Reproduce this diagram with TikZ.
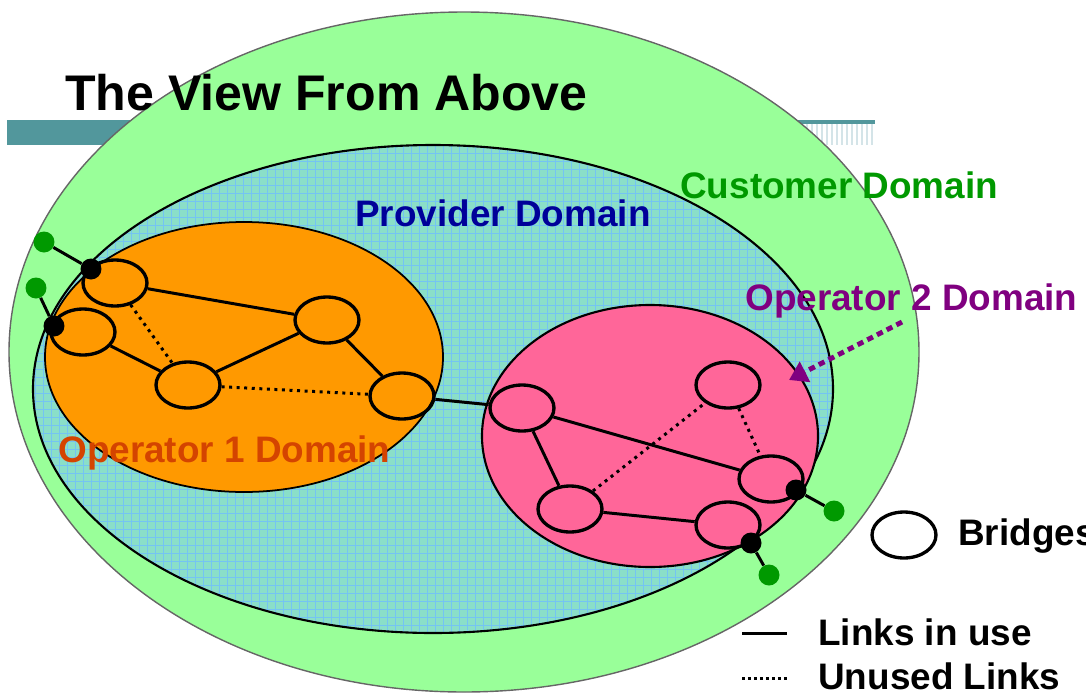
\documentclass[tikz,border=0pt]{standalone}
\usepackage{fontspec}
\setmainfont{Liberation Sans}
\usetikzlibrary{shapes.geometric,arrows.meta}
\definecolor{custgreen}{HTML}{99FF99}
\definecolor{custtext}{HTML}{009900}
\definecolor{provfill}{HTML}{8ADFC8}
\definecolor{provgrid}{HTML}{74C4F2}
\definecolor{provtext}{HTML}{000099}
\definecolor{opone}{HTML}{FF9900}
\definecolor{oponetext}{HTML}{D44400}
\definecolor{optwo}{HTML}{FF6699}
\definecolor{optwotext}{HTML}{800080}
\definecolor{barteal}{HTML}{52979C}
\definecolor{barstripe}{HTML}{D4E4E8}

\tikzset{
  bridge/.style={ellipse, draw, line width=1.9pt, inner sep=0pt, minimum width=1.28cm, minimum height=0.92cm},
  port/.style={circle, fill=black, inner sep=0pt, minimum size=0.42cm},
  host/.style={circle, fill=custtext, inner sep=0pt, minimum size=0.42cm},
  inuse/.style={line width=1.7pt},
  unused/.style={line width=1.7pt, dash pattern=on 1.7pt off 2.6pt},
  domlabel/.style={font=\bfseries\fontsize{21}{25}\selectfont, anchor=base west, inner sep=0pt}
}

\begin{document}
\begin{tikzpicture}[x=0.02cm, y=-0.02cm]
  \useasboundingbox (0,0) rectangle (1086,697);

  % title bar
  \fill[barteal] (7,120) rectangle (450,145);
  \fill[barteal] (450,120) rectangle (875,124);
  \foreach \x in {452,457,...,872}
    \draw[barstripe, line width=1.1pt] (\x,124) -- (\x,145);

  % customer domain
  \filldraw[fill=custgreen, draw=black!60, line width=0.8pt] (464,352) ellipse [x radius=455, y radius=340];

  % provider domain
  \begin{scope}
    \clip (433,389) ellipse [x radius=400, y radius=244];
    \fill[provfill] (30,140) rectangle (840,640);
    \foreach \x in {35,43,...,833}
      \draw[provgrid, line width=0.5pt] (\x,140) -- (\x,640);
    \foreach \y in {145,153,...,633}
      \draw[provgrid, line width=0.5pt] (30,\y) -- (840,\y);
  \end{scope}
  \draw[line width=1.2pt] (433,389) ellipse [x radius=400, y radius=244];

  % operator domains
  \filldraw[fill=opone, line width=1pt] (244,357) ellipse [x radius=199, y radius=135];
  \filldraw[fill=optwo, line width=1.2pt] (650,436) ellipse [x radius=168, y radius=131];

  % labels
  \node[font=\bfseries\fontsize{28.5}{34}\selectfont, anchor=base west, inner sep=0pt] (title) at (65,110) {The View From Above};
  \node[domlabel, text=custtext] (custlbl) at (680,198) {Customer Domain};
  \node[domlabel, text=provtext] (provlbl) at (355,226) {Provider Domain};
  \node[domlabel, text=optwotext] (optwolbl) at (745,310) {Operator 2 Domain};
  \node[domlabel, text=oponetext] (oponelbl) at (58,462) {Operator 1 Domain};

  % operator 2 pointer
  \coordinate (ptrtail) at (902,322);
  \coordinate (ptrhead) at (789,380);
  \draw[optwotext, line width=2.8pt, dash pattern=on 3.6pt off 2.6pt, -{Triangle[length=0.36cm, width=0.44cm]}] (ptrtail) -- (ptrhead);

  % bridges, operator 1
  \node[bridge] (a) at (115,283) {};
  \node[bridge] (b) at (83,332) {};
  \node[bridge] (c) at (327,320) {};
  \node[bridge] (d) at (188,385) {};
  \node[bridge] (e) at (402,396) {};
  % bridges, operator 2
  \node[bridge] (f) at (522,408) {};
  \node[bridge] (g) at (728,385) {};
  \node[bridge] (h) at (570,509) {};
  \node[bridge] (i) at (771,479) {};
  \node[bridge] (j) at (728,525) {};

  % links
  \draw[inuse] (a) -- (c);
  \draw[inuse] (b) -- (d);
  \draw[inuse] (d) -- (c);
  \draw[inuse] (c) -- (e);
  \draw[unused] (a) -- (d);
  \draw[unused] (d) -- (e);
  \draw[inuse] (e) -- (f);
  \draw[inuse] (f) -- (h);
  \draw[inuse] (f) -- (i);
  \draw[inuse] (h) -- (j);
  \draw[unused] (h) -- (g);
  \draw[unused] (g) -- (i);

  % edge ports and customer hosts
  \node[port] (pa) at (91,269) {};
  \node[port] (pb) at (54,326) {};
  \node[port] (pi) at (796,490) {};
  \node[port] (pj) at (751,543) {};
  \node[host] (ha) at (44,242) {};
  \node[host] (hb) at (36,288) {};
  \node[host] (hi) at (834,511) {};
  \node[host] (hj) at (769,575) {};
  \draw[inuse] (ha) -- (pa);
  \draw[inuse] (hb) -- (pb);
  \draw[inuse] (hi) -- (pi);
  \draw[inuse] (hj) -- (pj);

  % legend
  \node[bridge, fill=white] (keybridge) at (904,535) {};
  \node[domlabel] (keybridgelbl) at (958,545) {Bridges};
  \coordinate (keyusea) at (742,633);
  \coordinate (keyuseb) at (787,633);
  \coordinate (keyunuseda) at (742,678);
  \coordinate (keyunusedb) at (787,678);
  \draw[inuse] (keyusea) -- (keyuseb);
  \draw[line width=1.7pt, dash pattern=on 1.7pt off 1.7pt] (keyunuseda) -- (keyunusedb);
  \node[domlabel] (keyuselbl) at (818,645) {Links in use};
  \node[domlabel] (keyunusedlbl) at (818,689) {Unused Links};
\end{tikzpicture}
\end{document}
